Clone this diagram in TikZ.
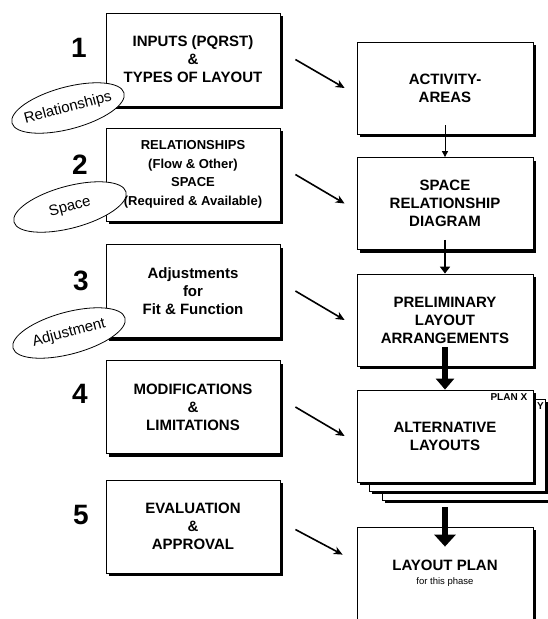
\documentclass[tikz,border=0pt]{standalone}
\usepackage{fontspec}
\setmainfont{Liberation Sans}
\usetikzlibrary{shapes.geometric,arrows.meta,shadows}

\begin{document}
\begin{tikzpicture}[x=1pt, y=1pt,
    box/.style={rectangle, draw, line width=0.8pt, fill=white, minimum width=174pt, minimum height=93pt,
        align=center, inner sep=2pt, font=\bfseries\fontsize{15}{18}\selectfont,
        drop shadow={shadow xshift=3pt, shadow yshift=-3pt, fill=black, opacity=1}},
    res/.style={box, minimum width=176pt, minimum height=92pt},
    tag/.style={ellipse, draw, line width=0.8pt, fill=white, minimum width=116pt, minimum height=42pt,
        inner xsep=-6pt, inner ysep=0pt, rotate=15, font=\fontsize{15}{18}\selectfont},
    num/.style={inner sep=0pt, font=\bfseries\fontsize{28}{30}\selectfont},
    plan tag/.style={inner sep=0pt, anchor=north east, font=\bfseries\fontsize{10}{12}\selectfont},
    feed/.style={line width=1.6pt, -{Stealth[length=9pt, width=8pt]}},
    flow1/.style={line width=0.9pt, -{Triangle[length=6pt, width=6pt]}},
    flow2/.style={line width=2pt, -{Triangle[length=7pt, width=10pt]}},
    flow3/.style={line width=5.5pt, -{Triangle[length=11pt, width=18pt]}},
    flow4/.style={line width=6.5pt, -{Triangle[length=12pt, width=21pt]}}]

    \useasboundingbox (0,0) rectangle (548,-619);

    % inputs on the left
    \node[box] (in1) at (193,-59.5) {INPUTS (PQRST)\\\&\\TYPES OF LAYOUT};
    \node[box, font=\bfseries\fontsize{13}{18.5}\selectfont] (in2) at (193,-174.5)
        {RELATIONSHIPS\\(Flow \& Other)\\SPACE\\(Required \& Available)};
    \node[box] (in3) at (193,-291) {Adjustments\\for\\Fit \& Function};
    \node[box] (in4) at (193,-407) {MODIFICATIONS\\\&\\LIMITATIONS};
    \node[box] (in5) at (193,-526.5) {EVALUATION\\\&\\APPROVAL};

    \node[num] (n1) at (79,-48) {1};
    \node[num] (n2) at (80,-165) {2};
    \node[num] (n3) at (81,-281) {3};
    \node[num] (n4) at (80,-394) {4};
    \node[num] (n5) at (81,-515) {5};

    % results on the right
    \node[res] (act) at (445,-88) {ACTIVITY-\\AREAS};
    \node[res] (srd) at (445,-203.5) {SPACE\\RELATIONSHIP\\DIAGRAM};
    \node[res] (prel) at (445,-320) {PRELIMINARY\\LAYOUT\\ARRANGEMENTS};
    \node[res] (alt3) at (470,-454) {};
    \node[res] (alt2) at (457,-445) {};
    \node[plan tag] (plany) at ([xshift=-1.5pt, yshift=-4pt]alt2.north east) {PLAN Y};
    \node[res] (alt) at (445,-436) {ALTERNATIVE\\LAYOUTS};
    \node[plan tag] (planx) at ([xshift=-6pt, yshift=-4pt]alt.north east) {PLAN X};
    \node[res, minimum height=110pt] (plan) at (445,-582) {};
    \node[inner sep=0pt, anchor=north, font=\bfseries\fontsize{15}{18}\selectfont] (plantitle)
        at ([yshift=-33pt]plan.north) {LAYOUT PLAN};
    \node[inner sep=0pt, anchor=base, font=\fontsize{9.5}{12}\selectfont] (plansub)
        at (445,-584) {for this phase};

    % ellipses
    \node[tag] (rel) at (68,-108) {Relationships};
    \node[tag] (spc) at (70,-207) {Space};
    \node[tag] (adj) at (69,-333) {Adjustment};

    % arrows
    \draw[feed] ([xshift=15pt]in1.east) -- ([xshift=-12pt]act.west);
    \draw[feed] ([xshift=15pt]in2.east) -- ([xshift=-12pt]srd.west);
    \draw[feed] ([xshift=15pt]in3.east) -- ([xshift=-12pt]prel.west);
    \draw[feed] ([xshift=15pt]in4.east) -- ([xshift=-12pt]alt.west);
    \draw[feed] ([xshift=15pt, yshift=-3pt]in5.east) -- ([xshift=-14pt, yshift=-28pt]plan.north west);

    \draw[flow1] ([yshift=9pt]act.south) -- (srd.north);
    \draw[flow2] ([yshift=10pt]srd.south) -- (prel.north);
    \draw[flow3] ([yshift=19pt]prel.south) -- (alt.north);
    \draw[flow4] ([yshift=-25pt]alt.south) -- ([yshift=-20pt]plan.north);
\end{tikzpicture}
\end{document}
